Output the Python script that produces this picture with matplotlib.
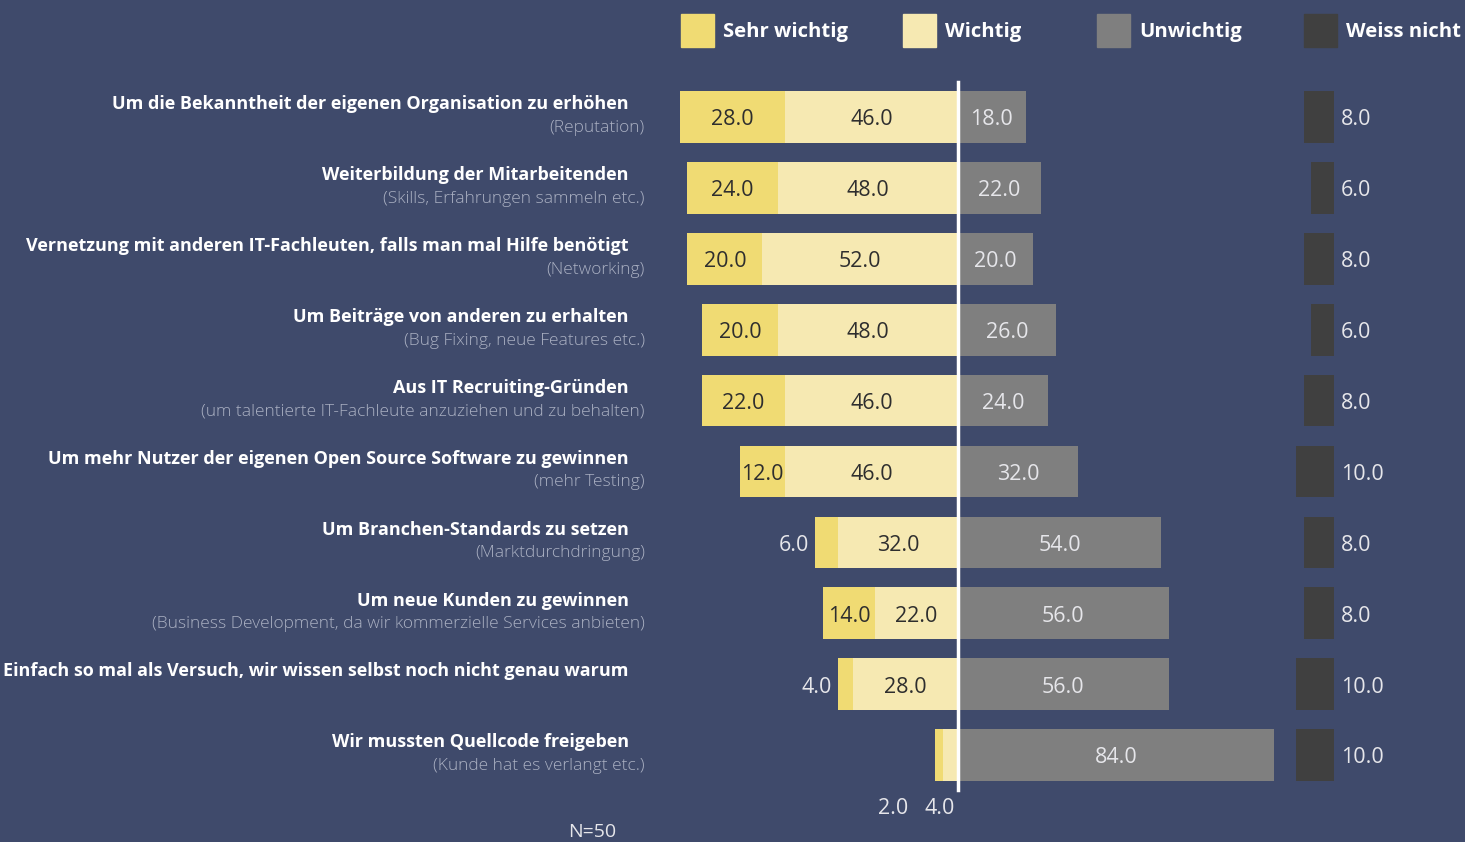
import matplotlib
matplotlib.use("Agg")
import matplotlib.pyplot as plt
from matplotlib.patches import Rectangle

plt.rcParams['font.family'] = ['Open Sans', 'DejaVu Sans']

# data
labels = [
    "Um die Bekanntheit der eigenen Organisation zu erhöhen",
    "Weiterbildung der Mitarbeitenden",
    "Vernetzung mit anderen IT-Fachleuten, falls man mal Hilfe benötigt",
    "Um Beiträge von anderen zu erhalten",
    "Aus IT Recruiting-Gründen",
    "Um mehr Nutzer der eigenen Open Source Software zu gewinnen",
    "Um Branchen-Standards zu setzen",
    "Um neue Kunden zu gewinnen",
    "Einfach so mal als Versuch, wir wissen selbst noch nicht genau warum",
    "Wir mussten Quellcode freigeben",
]
sublabels = [
    "(Reputation)",
    "(Skills, Erfahrungen sammeln etc.)",
    "(Networking)",
    "(Bug Fixing, neue Features etc.)",
    "(um talentierte IT-Fachleute anzuziehen und zu behalten)",
    "(mehr Testing)",
    "(Marktdurchdringung)",
    "(Business Development, da wir kommerzielle Services anbieten)",
    "",
    "(Kunde hat es verlangt etc.)",
]
sehr_wichtig = [28, 24, 20, 20, 22, 12, 6, 14, 4, 2]
wichtig = [46, 48, 52, 48, 46, 46, 32, 22, 28, 4]
unwichtig = [18, 22, 20, 26, 24, 32, 54, 56, 56, 84]
weiss_nicht = [8, 6, 8, 6, 8, 10, 8, 8, 10, 10]
legend_names = ["Sehr wichtig", "Wichtig", "Unwichtig", "Weiss nicht"]

bg = "#3f4a6b"
c_sehr = "#f0db73"
c_wich = "#f6e9b2"
c_unw = "#7f7f7f"
c_wn = "#404040"
light = "#e6e6ea"
dark = "#2e2e2e"
sub_col = "#aab0c2"

W, H = 1465, 842
fig = plt.figure(figsize=(W / 100, H / 100), dpi=100, facecolor=bg)
ax = fig.add_axes([0, 0, 1, 1], facecolor=bg)
sx = 3.76   # px per percent
cx = 958    # centre line px
sy = 70.9   # px per row
y0 = 117
ax.set_xlim(-cx / sx, (W - cx) / sx)
ax.set_ylim((H - y0) / sy, -y0 / sy)
ax.axis("off")

rows = list(range(len(labels)))
h = 0.73
wn_right = 100

ax.barh(rows, [-w for w in wichtig], height=h, color=c_wich, left=0)
ax.barh(rows, [-s for s in sehr_wichtig], height=h, color=c_sehr,
        left=[-w for w in wichtig])
ax.barh(rows, unwichtig, height=h, color=c_unw, left=0)
ax.barh(rows, [-v for v in weiss_nicht], height=h, color=c_wn, left=wn_right)

ax.plot([0, 0], [(82 - y0) / sy, (790 - y0) / sy], color="white", lw=2.5)

fs = 15.5
dy = 0.04
for i in rows:
    s, w, u, n = sehr_wichtig[i], wichtig[i], unwichtig[i], weiss_nicht[i]
    yi = i + dy
    if w < 8:
        # too narrow: values go below the bar
        yb = i + 0.76
        ax.text(-0.9, yb, f"{w:.1f}", ha="right", va="center", fontsize=fs, color=light)
        ax.text(-w - s - 7.3, yb, f"{s:.1f}", ha="right", va="center", fontsize=fs, color=light)
    else:
        ax.text(-w / 2, yi, f"{w:.1f}", ha="center", va="center", fontsize=fs, color=dark)
        if s >= 10:
            ax.text(-w - s / 2, yi, f"{s:.1f}", ha="center", va="center", fontsize=fs, color=dark)
        else:
            ax.text(-w - s - 1.6, yi, f"{s:.1f}", ha="right", va="center", fontsize=fs, color=light)
    ax.text(u / 2, yi, f"{u:.1f}", ha="center", va="center", fontsize=fs, color=light)
    ax.text(wn_right + 1.9, yi, f"{n:.1f}", ha="left", va="center", fontsize=fs, color=light)

    ax.text((629 - cx) / sx, i - 0.18, labels[i], ha="right", va="center",
            fontsize=13, fontweight="bold", color="white")
    if sublabels[i]:
        ax.text((645 - cx) / sx, i + 0.155, sublabels[i], ha="right", va="center",
                fontsize=12.5, color=sub_col, fontweight="light")

# legend
leg_x = [681, 903, 1097, 1304]
for name, col, px in zip(legend_names, [c_sehr, c_wich, c_unw, c_wn], leg_x):
    fig.patches.append(Rectangle((px / W, 1 - 47 / H), 33 / W, 33 / H,
                                 transform=fig.transFigure, color=col))
    fig.text((px + 42) / W, 1 - 32 / H, name, ha="left", va="center",
             fontsize=14.6, fontweight="bold", color="white")

fig.text(592 / W, 1 - 832 / H, "N=50", ha="center", va="center", fontsize=14, color=light)

fig.savefig("out.png", dpi=100, facecolor=bg)
